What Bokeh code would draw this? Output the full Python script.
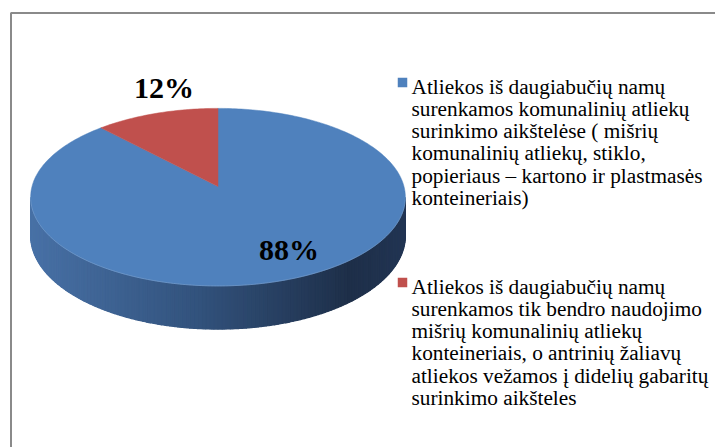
import numpy as np
from bokeh.plotting import figure
from bokeh.models import Range1d
from bokeh.core.properties import value
from bokeh.embed import file_html
from bokeh.resources import INLINE

# ---- data ----
values = [88, 12]
colors = ["#4F81BD", "#C0504D"]
legend_1 = ["Atliekos iš daugiabučių namų",
            "surenkamos komunalinių atliekų",
            "surinkimo aikštelėse ( mišrių",
            "komunalinių atliekų, stiklo,",
            "popieriaus – kartono ir plastmasės",
            "konteineriais)"]
legend_2 = ["Atliekos iš daugiabučių namų",
            "surenkamos tik bendro naudojimo",
            "mišrių komunalinių atliekų",
            "konteineriais, o antrinių žaliavų",
            "atliekos vežamos į didelių gabaritų",
            "surinkimo aikšteles"]
legends = [legend_1, legend_2]

SERIF = value("'Liberation Serif', 'Times New Roman', serif")

# ---- layout (screen pixels, y down) ----
W, H = 715, 447
p = figure(width=W, height=H, output_backend="svg", toolbar_location=None,
           x_range=Range1d(0, W), y_range=Range1d(H, 0),
           x_axis_type=None, y_axis_type=None, min_border=0,
           outline_line_color=None)
p.grid.visible = False
p.background_fill_color = "white"

# chart frame
p.line([10.5, 10.5, 720], [450, 12.5, 12.5], line_color="#8a8a8a", line_width=2)

# pie geometry with mild perspective
cx, cy, rx, ry, k, depth = 217.5, 186.0, 186.0, 87.5, 0.12, 38.0

def proj(theta_deg, drop=0.0):
    t = np.radians(theta_deg)
    u = np.sin(t)
    v = -np.cos(t)
    w = 1.0 - k * v
    return cx + rx * u / w, cy + (ry * v + drop) / w

total = float(sum(values))
fracs = [v / total for v in values]

# side wall (front half), shaded in strips
dense = np.linspace(0, 360, 3601)
dx, _ = proj(dense)
th_right = dense[np.argmax(dx)]
th_left = dense[np.argmin(dx)]
xmin, xmax = dx.min(), dx.max()
stops_t = [0.0, 0.45, 0.85, 1.0]
stops_c = [(72, 113, 166), (50, 82, 124), (30, 47, 73), (34, 53, 83)]

def shade(t):
    r = np.interp(t, stops_t, [c[0] for c in stops_c])
    g = np.interp(t, stops_t, [c[1] for c in stops_c])
    b = np.interp(t, stops_t, [c[2] for c in stops_c])
    return "#%02x%02x%02x" % (int(round(r)), int(round(g)), int(round(b)))

# whole side in base colour first (avoids seams), then shaded strips
arc_all = np.linspace(th_right, th_left, 200)
tx, ty = proj(arc_all)
bx, by = proj(arc_all[::-1], depth)
p.patch(list(tx) + list(bx), list(ty) + list(by), fill_color="#2f4b72",
        line_color=None)

n = 150
edges = np.linspace(th_right, th_left, n + 1)
sx, sy, sc = [], [], []
for i in range(n):
    a0, a1 = edges[i], edges[i + 1]
    arc = np.linspace(a0, a1, 4)
    tx, ty = proj(arc)
    bx, by = proj(arc[::-1], depth)
    sx.append(list(tx) + list(bx))
    sy.append(list(ty) + list(by))
    mx = 0.5 * (tx[0] + tx[-1])
    sc.append(shade((mx - xmin) / (xmax - xmin)))
p.patches(sx, sy, fill_color=sc, line_color=sc, line_width=1.2)

# top face slices
start = 0.0
for f, col in zip(fracs, colors):
    end = start + 360.0 * f
    arc = np.linspace(start, end, max(int(360 * f), 4))
    ax, ay = proj(arc)
    px = [cx] + list(ax)
    py = [cy] + list(ay)
    p.patch(px, py, fill_color=col, line_color=col, line_width=0.5)
    start = end

# front rim highlight
rim = np.linspace(th_right, th_left, 200)
rx_, ry_ = proj(rim)
p.line(rx_, ry_, line_color="#7fa3d0", line_width=1, line_alpha=0.6)

# data labels
pct = ["%d%%" % round(100 * f) for f in fracs]
p.text(x=[288.5, 163.5], y=[249, 87], text=pct,
       text_font=SERIF, text_font_size="30px",
       text_font_style="bold", text_align="center", text_baseline="middle",
       text_color="black")

# legend
leg_x, line_h = 411.0, 22.3
leg_top = [86.0, 286.0]
for lines, col, y0 in zip(legends, colors, leg_top):
    p.rect(x=[402], y=[y0 - 4], width=9.5, height=9.5,
           fill_color=col, line_color=None)
    ys = [y0 + i * line_h for i in range(len(lines))]
    p.text(x=[leg_x] * len(lines), y=ys, text=lines,
           text_font=SERIF, text_font_size="21.3px",
           text_align="left", text_baseline="middle", text_color="black")

open("out.html", "w").write(file_html(p, INLINE))
